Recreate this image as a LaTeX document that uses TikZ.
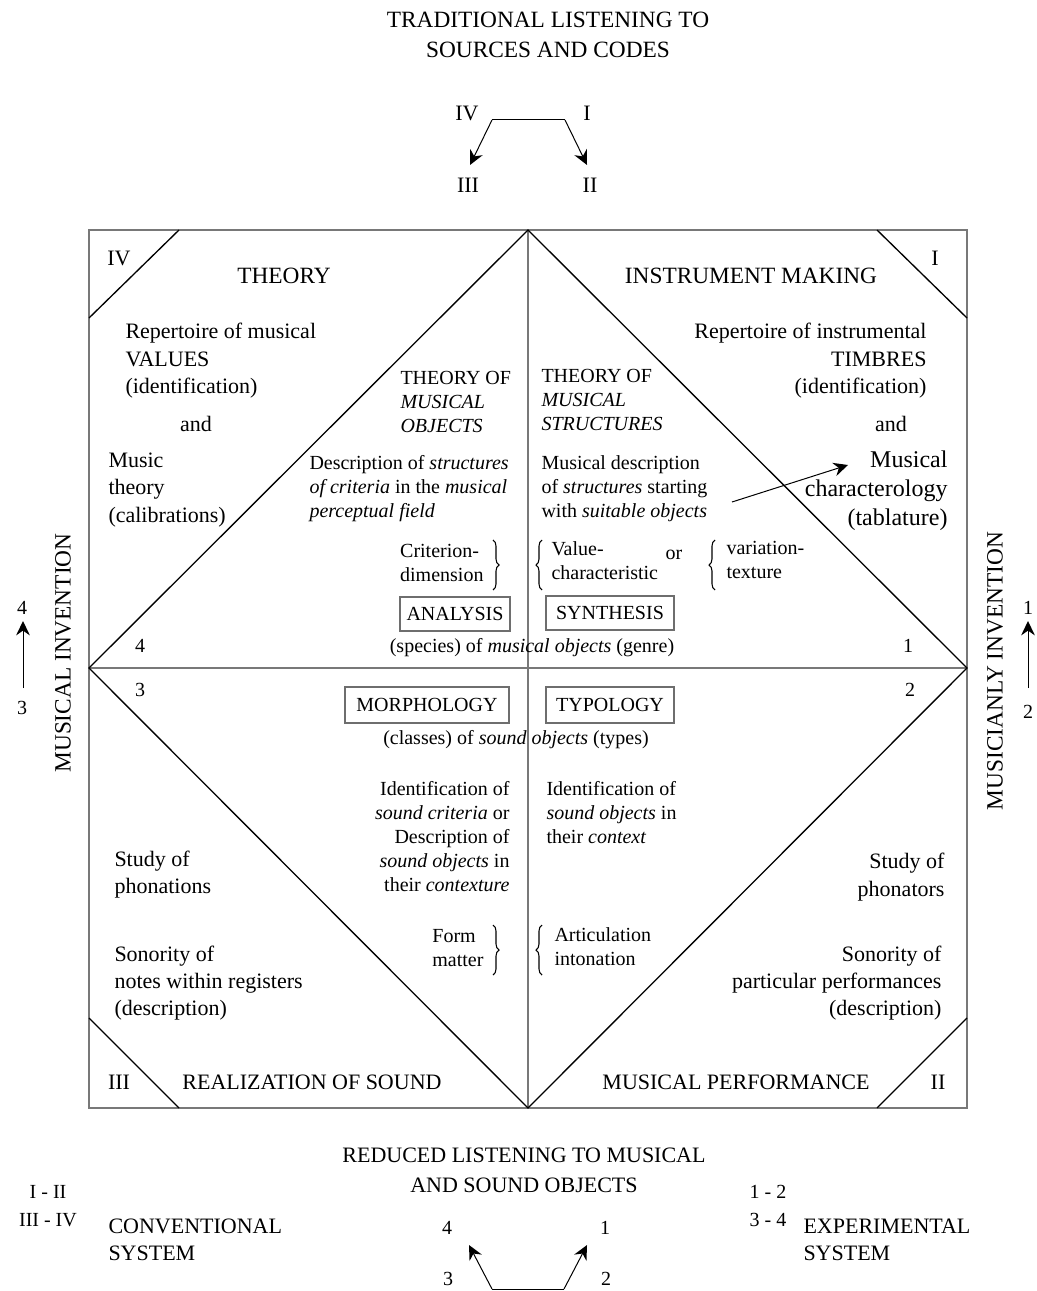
\documentclass[tikz,border=0pt]{standalone}
\usepackage{fontspec}
\setmainfont{Liberation Serif}
\usetikzlibrary{decorations.pathreplacing}

\tikzset{every picture/.style={line width=0.75pt}}
\tikzset{
  txt/.style={font=\fontsize{16.5}{20.6}\selectfont, inner sep=0pt},
  sml/.style={font=\fontsize{15}{18}\selectfont, inner sep=0pt},
  head/.style={font=\fontsize{17.5}{22}\selectfont, inner sep=0pt},
  big/.style={font=\fontsize{18}{21.75}\selectfont, inner sep=0pt},
  wordbox/.style={draw={rgb, 255:red, 110; green, 110; blue, 110}, line width=1.2pt, font=\fontsize{15}{18}\selectfont, inner sep=0pt},
  frame/.style={draw={rgb, 255:red, 120; green, 120; blue, 120}, line width=1.6pt},
  diag/.style={line width=1pt},
  brc/.style={decorate, decoration={brace, amplitude=4.5pt}, line width=0.8pt},
  tip/.style={scale=1.35, fill={rgb, 255:red, 0; green, 0; blue, 0}, line width=0.08, draw opacity=0},
}

\begin{document}
\begin{tikzpicture}[x=0.75pt,y=0.75pt,yscale=-1,xscale=1]
	\path [use as bounding box] (0,0) rectangle (1036,1291);

	%Shape: Rectangle
	\draw [frame] (89,230) rectangle (967,1108);
	%Straight Lines
	\draw [frame] (528,230) -- (528,1108);
	\draw [frame] (89,668) -- (967,668);
	%Shape: Diamond
	\draw [diag] (528,230) -- (967,668) -- (528,1108) -- (89,668) -- cycle;
	%Straight Lines (corners)
	\draw [diag] (89,318) -- (179,230);
	\draw [diag] (877,230) -- (967,318);
	\draw [diag] (89,1018) -- (179,1108);
	\draw [diag] (877,1108) -- (967,1018);

	% Text Node
	\draw (548,35) node [head, align=center] (traditional) {TRADITIONAL LISTENING TO\\SOURCES AND CODES};
	% Text Node
	\draw (467,113) node [txt] (romIVtop) {IV};
	\draw (587,113) node [txt] (romItop) {I};
	\draw (468,185) node [txt] (romIIItop) {III};
	\draw (590,185) node [txt] (romIItop) {II};

	%Straight Lines
	\coordinate (topL) at (492,120);
	\coordinate (topR) at (565,120);
	\coordinate (tipIII) at (470,165);
	\coordinate (tipII) at (587,165);
	\draw (topL) -- (topR);
	\draw [shorten >=3pt] (topL) -- (tipIII);
	\draw [shift={(tipIII)}, rotate = 296.57] [tip] (10.72,-5.15) -- (0,0) -- (10.72,5.15) -- (7.12,0) -- cycle    ;
	\draw [shorten >=3pt] (topR) -- (tipII);
	\draw [shift={(tipII)}, rotate = 243.43] [tip] (10.72,-5.15) -- (0,0) -- (10.72,5.15) -- (7.12,0) -- cycle    ;

	% Text Node
	\draw (63,653) node [head, rotate=90] (musinv) {MUSICAL INVENTION};
	\draw (995,671) node [head, rotate=90] (musnlyinv) {MUSICIANLY INVENTION};
	\draw (22,608) node [sml] (sideIV) {4};
	\draw (22,708) node [sml] (sideIII) {3};
	\draw (1028,608) node [sml] (sideI) {1};
	\draw (1028,712) node [sml] (sideII) {2};
	%Straight Lines
	\coordinate (leftfoot) at (23,688);
	\coordinate (lefttip) at (23,621);
	\coordinate (rightfoot) at (1028,688);
	\coordinate (righttip) at (1028,621);
	\draw [shorten >=3pt] (leftfoot) -- (lefttip);
	\draw [shift={(lefttip)}, rotate = 90] [tip] (10.72,-5.15) -- (0,0) -- (10.72,5.15) -- (7.12,0) -- cycle    ;
	\draw [shorten >=3pt] (rightfoot) -- (righttip);
	\draw [shift={(righttip)}, rotate = 90] [tip] (10.72,-5.15) -- (0,0) -- (10.72,5.15) -- (7.12,0) -- cycle    ;

	%% quadrant IV
	% Text Node
	\draw (119,258) node [txt] (qIV) {IV};
	\draw (284,276) node [head] (theory) {THEORY};
	\draw (125,323) node [txt, anchor=north west, align=left] (repvalues) {Repertoire of musical\\VALUES\\(identification)};
	\draw (196,424) node [txt] (andIV) {and};
	\draw (108,452) node [txt, anchor=north west, align=left] (musictheory) {Music\\theory\\(calibrations)};
	\draw (400,371) node [sml, anchor=north west, align=left] (theoryobj) {THEORY OF\\\textit{MUSICAL}\\\textit{OBJECTS}};
	\draw (309,455) node [sml, anchor=north west, align=left] (descobj) {Description of \textit{structures}\\\textit{of criteria} in the \textit{musical}\\\textit{perceptual field}};
	\draw (484,544) node [sml, anchor=north east, align=left] (criterion) {Criterion-\\dimension};
	\draw [brc] (493,540) -- (493,590);
	\draw (455,614) node [wordbox, minimum width=82.5pt, minimum height=25.5pt] (analysis) {ANALYSIS};
	\draw (140,646) node [sml] (num4) {4};
	\draw (532,648) node [sml] (species) {(species) of \textit{musical objects} (genre)};

	%% quadrant I
	% Text Node
	\draw (935,258) node [txt] (qI) {I};
	\draw (751,276) node [head] (instrmaking) {INSTRUMENT MAKING};
	\draw (927,323) node [txt, anchor=north east, align=right] (reptimbres) {Repertoire of instrumental\\TIMBRES\\(identification)};
	\draw (891,424) node [txt] (andI) {and};
	\draw (948,450) node [big, anchor=north east, align=right] (characterology) {Musical\\characterology\\(tablature)};
	\draw (541,369) node [sml, anchor=north west, align=left] (theorystr) {THEORY OF\\\textit{MUSICAL}\\\textit{STRUCTURES}};
	\draw (541,455) node [sml, anchor=north west, align=left] (descstr) {Musical description\\of \textit{structures} starting\\with \textit{suitable objects}};
	\draw [brc] (542,590) -- (542,540);
	\draw (551,541) node [sml, anchor=north west, align=left] (valuechar) {Value-\\characteristic};
	\draw (674,555) node [sml] (orword) {or};
	\draw [brc] (715,590) -- (715,540);
	\draw (726,541) node [sml, anchor=north west, align=left] (variation) {variation-\\texture};
	\draw (610,613) node [wordbox, minimum width=96pt, minimum height=25.5pt] (synthesis) {SYNTHESIS};
	\draw (908,646) node [sml] (num1) {1};
	%Straight Lines
	\coordinate (chartail) at (732,502);
	\coordinate (chartip) at (848,465);
	\draw [shorten >=3pt] (chartail) -- (chartip);
	\draw [shift={(chartip)}, rotate = 162.16] [tip] (10.72,-5.15) -- (0,0) -- (10.72,5.15) -- (7.12,0) -- cycle    ;

	%% quadrant III
	% Text Node
	\draw (140,690) node [sml] (num3) {3};
	\draw (427,705) node [wordbox, minimum width=123pt, minimum height=27pt] (morphology) {MORPHOLOGY};
	\draw (516,740) node [sml] (classes) {(classes) of \textit{sound objects} (types)};
	\draw (510,781) node [sml, anchor=north east, align=right] (identcrit) {Identification of\\\textit{sound criteria} or\\Description of\\\textit{sound objects} in\\their \textit{contexture}};
	\draw (114,850) node [txt, anchor=north west, align=left] (phonations) {Study of\\phonations};
	\draw (114,945) node [txt, anchor=north west, align=left] (sonnotes) {Sonority of\\notes within registers\\(description)};
	\draw (484,929) node [sml, anchor=north east, align=left] (formmatter) {Form\\matter};
	\draw [brc] (493,925) -- (493,975);
	\draw (119,1082) node [txt] (qIII) {III};
	\draw (312,1082) node [txt] (realization) {REALIZATION OF SOUND};

	%% quadrant II
	% Text Node
	\draw (910,690) node [sml] (num2) {2};
	\draw (610,705) node [wordbox, minimum width=96pt, minimum height=27pt] (typology) {TYPOLOGY};
	\draw (546,781) node [sml, anchor=north west, align=left] (identobj) {Identification of\\\textit{sound objects} in\\their \textit{context}};
	\draw (945,853) node [txt, anchor=north east, align=right] (phonators) {Study of\\phonators};
	\draw [brc] (542,975) -- (542,925);
	\draw (554,927) node [sml, anchor=north west, align=left] (articulation) {Articulation\\intonation};
	\draw (942,945) node [txt, anchor=north east, align=right] (sonperf) {Sonority of\\particular performances\\(description)};
	\draw (736,1082) node [txt] (performance) {MUSICAL PERFORMANCE};
	\draw (938,1082) node [txt] (qII) {II};

	%% below the square
	% Text Node
	\draw (524,1170) node [txt, align=center] (reduced) {REDUCED LISTENING TO MUSICAL\\[2pt]AND SOUND OBJECTS};
	\draw (48,1206) node [sml, align=center] (romconv) {I - II\\[3pt]III - IV};
	\draw (108,1218) node [txt, anchor=north west, align=left] (conventional) {CONVENTIONAL\\SYSTEM};
	\draw (768,1206) node [sml, align=center] (numexp) {1 - 2\\[3pt]3 - 4};
	\draw (803,1218) node [txt, anchor=north west, align=left] (experimental) {EXPERIMENTAL\\SYSTEM};
	\draw (447,1228) node [sml] (botIV) {4};
	\draw (605,1228) node [sml] (botI) {1};
	\draw (448,1279) node [sml] (botIII) {3};
	\draw (606,1279) node [sml] (botII) {2};
	%Straight Lines
	\coordinate (botL) at (492,1289);
	\coordinate (botR) at (564,1289);
	\coordinate (tip4) at (469,1245);
	\coordinate (tip1) at (587,1245);
	\draw (botL) -- (botR);
	\draw [shorten >=3pt] (botL) -- (tip4);
	\draw [shift={(tip4)}, rotate = 62.4] [tip] (10.72,-5.15) -- (0,0) -- (10.72,5.15) -- (7.12,0) -- cycle    ;
	\draw [shorten >=3pt] (botR) -- (tip1);
	\draw [shift={(tip1)}, rotate = 117.6] [tip] (10.72,-5.15) -- (0,0) -- (10.72,5.15) -- (7.12,0) -- cycle    ;

\end{tikzpicture}
\end{document}
